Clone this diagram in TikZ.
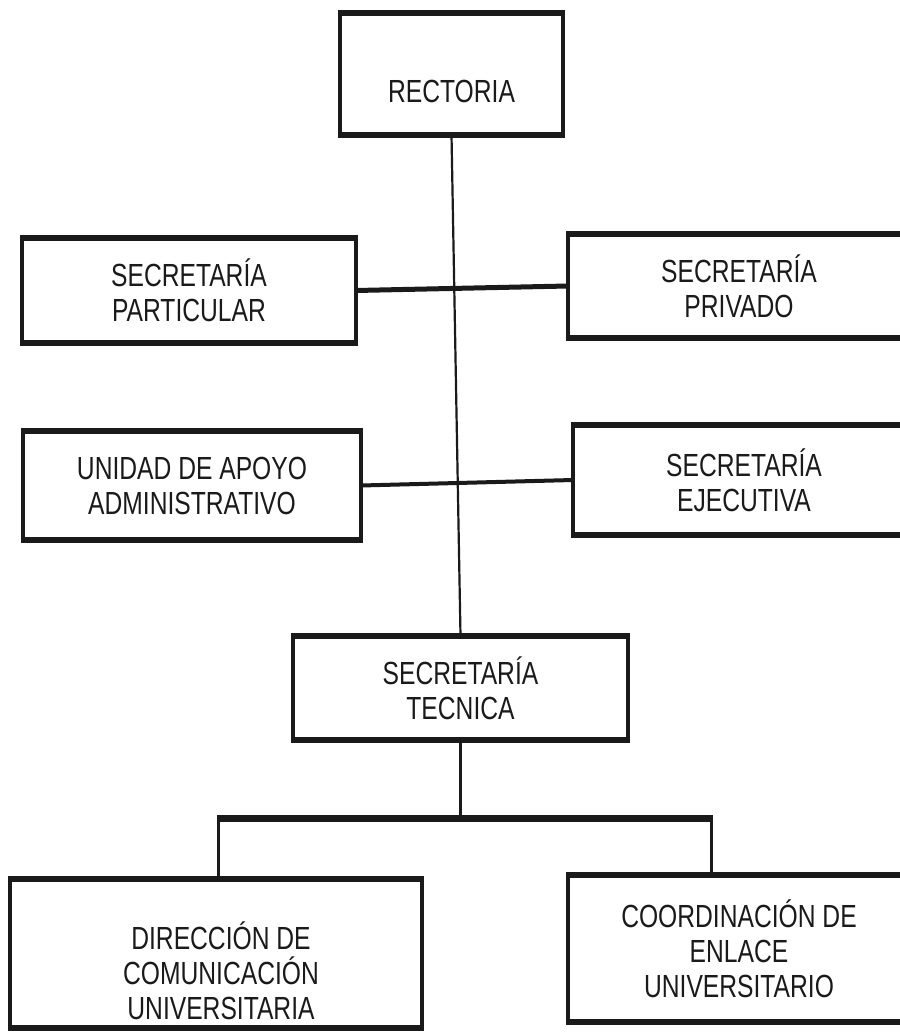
\documentclass[tikz,border=0pt]{standalone}
\usepackage{fontspec}
\setmainfont{Liberation Sans}[FakeStretch=0.77]
\definecolor{ink}{HTML}{1A1A1A}
\begin{document}
\begin{tikzpicture}[x=1pt,y=-1pt,
  box/.style={draw=ink, fill=white, line width=4pt, outer sep=0pt, inner sep=0pt,
    align=center, font=\fontsize{32}{35}\selectfont, text=ink},
  txt/.style={inner sep=0pt, align=center, font=\fontsize{32}{35}\selectfont, text=ink},
  rule/.style={draw=ink, line width=#1},
  rule/.default=3pt]
\useasboundingbox[fill=white] (0,0) rectangle (899,1032);

\coordinate (bl) at (218,818);
\coordinate (br) at (711,818);

% boxes
\node[box, minimum width=223pt, minimum height=122pt] (rect) at (451.5,74) {};
\node[box, minimum width=334pt, minimum height=105pt] (part) at (189,290.5) {SECRETARÍA\\PARTICULAR};
\node[box, minimum width=342pt, minimum height=104pt] (priv) at (739,286) {SECRETARÍA\\PRIVADO};
\node[box, minimum width=338pt, minimum height=109pt] (unid) at (192,485.5) {UNIDAD DE APOYO\\ADMINISTRATIVO};
\node[box, minimum width=342pt, minimum height=110pt] (ejec) at (744,480) {SECRETARÍA\\EJECUTIVA};
\node[box, minimum width=335pt, minimum height=104pt] (tec) at (460.5,688) {SECRETARÍA\\TECNICA};
\node[box, minimum width=412pt, minimum height=149pt] (dir) at (216,953.5) {};
\node[box, minimum width=342pt, minimum height=147pt] (coord) at (739,948.5) {COORDINACIÓN DE\\ENLACE\\UNIVERSITARIO};

\node[txt] (rectT) at ([yshift=-17pt]rect.center) {RECTORIA};
\node[txt] (dirT) at ([yshift=-17pt,xshift=5pt]dir.center) {DIRECCIÓN DE\\COMUNICACIÓN\\UNIVERSITARIA};

% thicker top and bottom borders
\foreach \n in {rect,part,priv,unid,ejec,tec,dir,coord}{
  \draw[rule=6.5pt] ([xshift=-2pt]\n.north west) -- ([xshift=2pt]\n.north east);
  \draw[rule=6.5pt] ([xshift=-2pt]\n.south west) -- ([xshift=2pt]\n.south east);
}

% connectors
\draw[rule=2.2pt] (rect.south) -- (tec.north);
\draw[rule=5pt] (part.east) -- (priv.west);
\draw[rule=4pt] (unid.east) -- (ejec.west);
\draw[rule=3pt] (tec.south) -- (tec.south |- bl);
\draw[rule=7pt] ([xshift=-1.5pt]bl) -- ([xshift=1.5pt]br);
\draw[rule=3pt] (bl) -- (bl |- dir.north);
\draw[rule=3pt] (br) -- (br |- coord.north);
\end{tikzpicture}
\end{document}
